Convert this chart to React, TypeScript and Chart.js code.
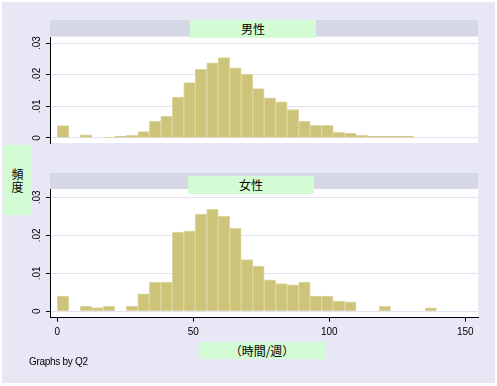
import React, { useEffect, useRef } from "react";
import { Chart, registerables } from "chart.js";

Chart.register(...registerables);

// ---- data ----
const binCenters = [
  2.11, 6.34, 10.56, 14.79, 19.01, 23.24, 27.46, 31.69, 35.91, 40.14, 44.36,
  48.59, 52.81, 57.04, 61.26, 65.49, 69.71, 73.94, 78.16, 82.39, 86.61, 90.84,
  95.06, 99.29, 103.51, 107.74, 111.96, 116.19, 120.41, 124.64, 128.86, 133.09,
  137.31,
];
const maleDensity = [
  0.0039, 0, 0.001, 0, 0.0003, 0.0005, 0.0008, 0.002, 0.0053, 0.0068, 0.0129,
  0.0175, 0.0217, 0.0238, 0.0254, 0.0222, 0.0202, 0.0156, 0.0127, 0.0114, 0.009,
  0.0053, 0.004, 0.004, 0.0018, 0.0015, 0.0008, 0.0005, 0.0005, 0.0005, 0.0005,
  0, 0,
];
const femaleDensity = [
  0.004, 0, 0.0014, 0.001, 0.0014, 0, 0.0014, 0.0046, 0.0077, 0.0077, 0.0208,
  0.0211, 0.0256, 0.0268, 0.025, 0.0218, 0.0136, 0.0119, 0.0083, 0.0073, 0.007,
  0.0077, 0.004, 0.004, 0.0027, 0.0025, 0, 0, 0.0013, 0, 0, 0, 0.0009,
];
const xTicks = [0, 50, 100, 150];
const yTicks = [0, 0.01, 0.02, 0.03];
const yTickLabels = ["0", ".01", ".02", ".03"];
const panelLabels = ["男性", "女性"];
const yTitleChars = ["頻", "度"];
const xTitle = "（時間/週）";
const note = "Graphs by Q2";

// ---- styles ----
const W = 497;
const H = 386;
const BG = "#e8e7f6";
const STRIP = "#d5d6e6";
const LABEL_BG = "#d4fcd4";
const GRID = "#e4e2f2";
const BAR_FILL = "rgb(205,196,122)";
const BAR_EDGE = "rgb(220,214,162)";
const LATIN = "'Liberation Sans', Arial, 'DejaVu Sans', sans-serif";
const CJK = "'Noto Sans CJK JP', 'Noto Sans CJK SC', sans-serif";

const plotBg = {
  id: "plotBg",
  beforeDraw(chart: any) {
    const { ctx, chartArea } = chart;
    if (!chartArea) return;
    ctx.save();
    ctx.fillStyle = "#ffffff";
    ctx.fillRect(
      chartArea.left,
      chartArea.top,
      chartArea.right - chartArea.left,
      chartArea.bottom - chartArea.top
    );
    ctx.restore();
  },
};

function makeChart(
  canvas: HTMLCanvasElement,
  values: number[],
  isBottom: boolean
) {
  const yMin = isBottom ? -0.00168 : -0.0016;
  const yMax = isBottom ? 0.03218 : 0.03194;
  return new Chart(canvas, {
    type: "bar",
    data: {
      datasets: [
        {
          data: binCenters.map((x, i) => ({
            x,
            y: values[i] ? values[i] : null,
          })) as any,
          backgroundColor: BAR_FILL,
          borderColor: BAR_EDGE,
          borderWidth: 1,
          borderSkipped: "start",
          barPercentage: 1,
          categoryPercentage: 1,
        },
      ],
    },
    options: {
      responsive: false,
      maintainAspectRatio: false,
      animation: false,
      devicePixelRatio: 1,
      events: [],
      layout: {
        padding: {
          left: 20,
          right: 18.9,
          top: isBottom ? 189 : 37,
          bottom: isBottom ? 48.3 : 223,
        },
      },
      plugins: {
        legend: { display: false },
        tooltip: { enabled: false },
      },
      scales: {
        x: {
          type: "linear",
          min: -2.7,
          max: 154.7,
          offset: false,
          display: isBottom,
          afterBuildTicks: (s: any) => {
            s.ticks = xTicks.map((v) => ({ value: v }));
          },
          afterFit: (s: any) => {
            s.height = 20;
          },
          grid: {
            offset: false,
            drawOnChartArea: false,
            drawTicks: true,
            tickLength: 4,
            tickColor: "#000",
            color: "#000",
          },
          border: { display: true, color: "#000", width: 1 },
          ticks: {
            color: "#000",
            font: { family: LATIN, size: 10 },
            padding: 5,
            minRotation: 0,
            maxRotation: 0,
            autoSkip: false,
          },
        },
        y: {
          type: "linear",
          min: yMin,
          max: yMax,
          afterBuildTicks: (s: any) => {
            s.ticks = yTicks.map((v) => ({ value: v }));
          },
          afterFit: (s: any) => {
            s.width = 30;
          },
          grid: {
            offset: false,
            color: GRID,
            lineWidth: 1,
            drawTicks: true,
            tickLength: 4,
            tickColor: "#000",
          },
          border: { display: true, color: "#000", width: 1 },
          ticks: {
            color: "#000",
            font: { family: LATIN, size: 10 },
            padding: 1.5,
            minRotation: 90,
            maxRotation: 90,
            crossAlign: "center",
            autoSkip: false,
            callback: (_v: any, i: number) => yTickLabels[i],
          },
        },
      },
    } as any,
    plugins: [plotBg],
  });
}

const abs = (
  left: number,
  top: number,
  width: number,
  height: number,
  extra: React.CSSProperties = {}
): React.CSSProperties => ({
  position: "absolute",
  left,
  top,
  width,
  height,
  ...extra,
});

const labelBox = (
  left: number,
  top: number,
  width: number,
  height: number
): React.CSSProperties =>
  abs(left, top, width, height, {
    background: LABEL_BG,
    display: "flex",
    alignItems: "center",
    justifyContent: "center",
    fontFamily: CJK,
    fontSize: 12,
    color: "#000",
    lineHeight: "12px",
    whiteSpace: "nowrap",
  });

export default function App() {
  const topRef = useRef<HTMLCanvasElement>(null);
  const botRef = useRef<HTMLCanvasElement>(null);

  useEffect(() => {
    const c1 = makeChart(topRef.current!, maleDensity, false);
    const c2 = makeChart(botRef.current!, femaleDensity, true);
    return () => {
      c1.destroy();
      c2.destroy();
    };
  }, []);

  return (
    <div
      style={{
        position: "fixed",
        left: 0,
        top: 0,
        width: W,
        height: H,
        background: "#ffffff",
        overflow: "hidden",
      }}
    >
      <div style={abs(2, 2, 493, 381, { background: BG })} />
      {/* strip headers */}
      <div style={abs(50, 20, 428, 16, { background: STRIP })} />
      <div style={abs(50, 173, 428, 16, { background: STRIP })} />
      <canvas
        ref={topRef}
        width={W}
        height={H}
        style={abs(0, 0, W, H, { pointerEvents: "none" })}
      />
      <canvas
        ref={botRef}
        width={W}
        height={H}
        style={abs(0, 0, W, H, { pointerEvents: "none" })}
      />
      <div style={labelBox(190, 20, 126, 18)}>{panelLabels[0]}</div>
      <div style={labelBox(188, 176, 126, 18)}>{panelLabels[1]}</div>
      <div
        style={{
          ...labelBox(4, 145, 27, 70),
          flexDirection: "column",
          lineHeight: "13px",
        }}
      >
        {yTitleChars.map((c) => (
          <span key={c}>{c}</span>
        ))}
      </div>
      <div style={labelBox(199, 342, 126, 17)}>{xTitle}</div>
      <div
        style={abs(29, 355, 120, 14, {
          fontFamily: LATIN,
          fontSize: 10,
          lineHeight: "14px",
          color: "#000",
          letterSpacing: "-0.3px",
          whiteSpace: "nowrap",
        })}
      >
        {note}
      </div>
    </div>
  );
}
